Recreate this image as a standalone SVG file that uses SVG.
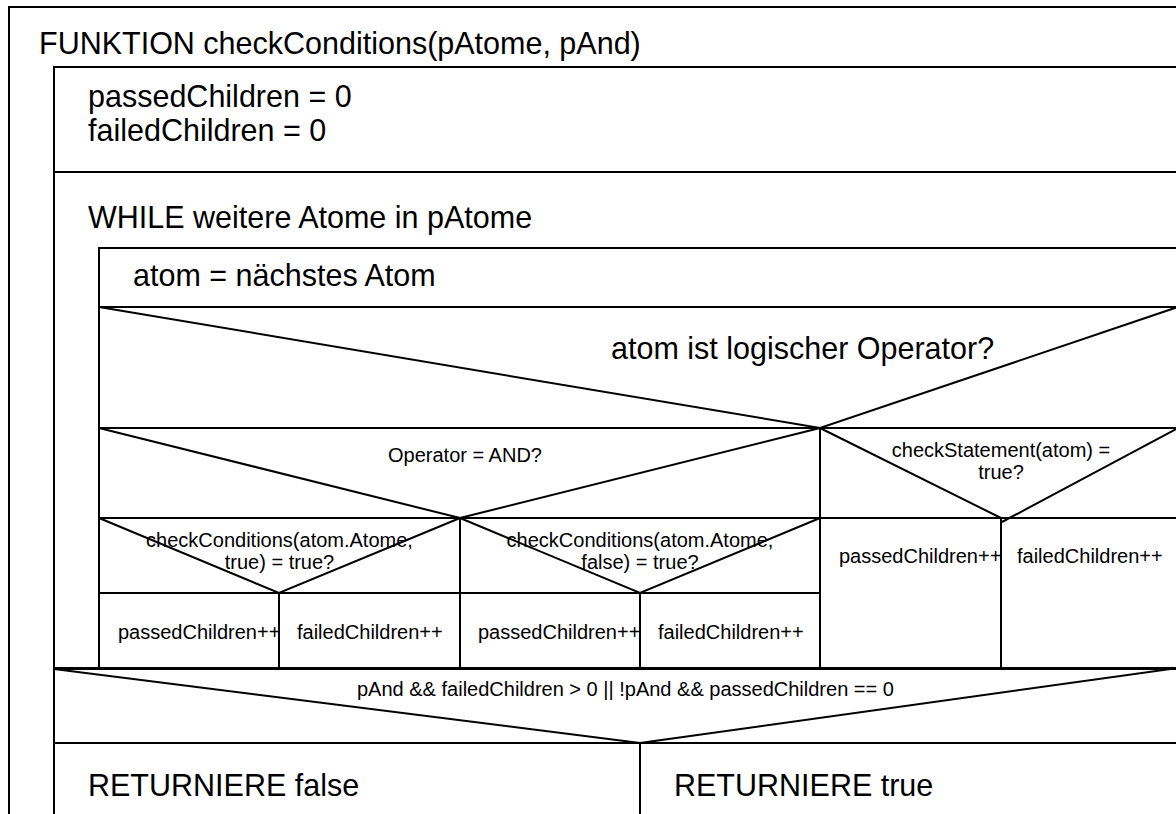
<svg xmlns="http://www.w3.org/2000/svg" width="1176" height="814" viewBox="0 0 1176 814">
<style>
.b{fill:none;stroke:#000;stroke-width:2}
.l{stroke:#000;stroke-width:2;fill:none}
.t{font-family:"Liberation Sans",Arial,sans-serif;font-size:30.5px;fill:#000}
.s{font-family:"Liberation Sans",Arial,sans-serif;font-size:20px;fill:#000}
.m{text-anchor:middle}
</style>
<rect width="1176" height="814" fill="#fff"/>
<g id="function">
<rect class="b" x="9" y="7" width="1220" height="900"/>
<text class="t" x="39" y="54">FUNKTION checkConditions(pAtome, pAnd)</text>
<rect class="b" x="54" y="67" width="1124" height="840"/>
</g>
<g id="init">
<rect class="b" x="54" y="67" width="1124" height="105"/>
<text class="t" x="88" y="107">passedChildren = 0</text>
<text class="t" x="88" y="141">failedChildren = 0</text>
</g>
<g id="while">
<rect class="b" x="54" y="172" width="1124" height="496"/>
<text class="t" x="88" y="228">WHILE weitere Atome in pAtome</text>
<rect class="b" x="99" y="248" width="1079" height="420"/>
</g>
<g id="nextAtom">
<rect class="b" x="99" y="248" width="1079" height="59"/>
<text class="t" x="133" y="286">atom = nächstes Atom</text>
</g>
<g id="isOperator">
<rect class="b" x="99" y="307" width="1079" height="121"/>
<polyline class="l" points="99,307 820,428 1178,307"/>
<text class="t" x="611" y="359">atom ist logischer Operator?</text>
<line class="l" x1="820" y1="428" x2="820" y2="668"/>
</g>
<g id="isAnd">
<rect class="b" x="99" y="428" width="721" height="90"/>
<polyline class="l" points="99,428 460,518 820,428"/>
<text class="s" x="388" y="462">Operator = AND?</text>
<line class="l" x1="460" y1="518" x2="460" y2="668"/>
</g>
<g id="checkTrue">
<rect class="b" x="99" y="518" width="361" height="75"/>
<polyline class="l" points="99,518 279,593 460,518"/>
<text class="s m" x="279.5" y="547">checkConditions(atom.Atome,</text>
<text class="s m" x="279.5" y="569">true) = true?</text>
<line class="l" x1="279" y1="593" x2="279" y2="668"/>
<text class="s" x="118" y="639">passedChildren++</text>
<text class="s" x="297" y="639">failedChildren++</text>
</g>
<g id="checkFalse">
<rect class="b" x="460" y="518" width="360" height="75"/>
<polyline class="l" points="460,518 640,593 820,518"/>
<text class="s m" x="640" y="547">checkConditions(atom.Atome,</text>
<text class="s m" x="640" y="569">false) = true?</text>
<line class="l" x1="640" y1="593" x2="640" y2="668"/>
<text class="s" x="478" y="639">passedChildren++</text>
<text class="s" x="658" y="639">failedChildren++</text>
</g>
<g id="checkStatement">
<rect class="b" x="820" y="428" width="358" height="90"/>
<polyline class="l" points="820,428 1001,518"/>
<polyline class="l" points="1002,522 1178,428"/>
<text class="s m" x="1001" y="457">checkStatement(atom) =</text>
<text class="s m" x="1001" y="479">true?</text>
<line class="l" x1="1001" y1="518" x2="1001" y2="668"/>
<text class="s" x="839" y="563">passedChildren++</text>
<text class="s" x="1017" y="563">failedChildren++</text>
</g>
<g id="result">
<rect class="b" x="54" y="669" width="1124" height="74"/>
<polyline class="l" points="54,669 640,743 1178,668"/>
<text class="s" x="357" y="696">pAnd &amp;&amp; failedChildren &gt; 0 || !pAnd &amp;&amp; passedChildren == 0</text>
<line class="l" x1="640" y1="743" x2="640" y2="830"/>
<text class="t" x="88" y="796">RETURNIERE false</text>
<text class="t" x="674" y="796">RETURNIERE true</text>
</g>
<g id="connectors"/>
</svg>
